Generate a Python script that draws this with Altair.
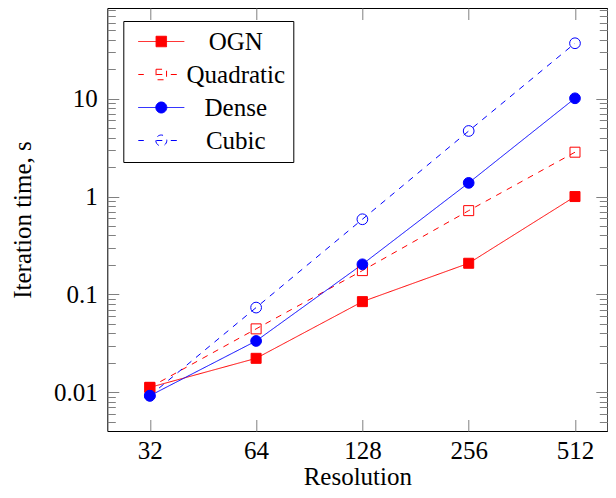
import altair as alt
import numpy as np
import pandas as pd

# ---- data ----
resolution = [32, 64, 128, 256, 512]
ogn = [0.0112, 0.0222, 0.0843, 0.208, 1.0]
quadratic = [0.0112, 0.0444, 0.175, 0.718, 2.84]
dense = [0.0092, 0.0334, 0.203, 1.38, 10.1]
cubic = [0.0092, 0.0733, 0.586, 4.68, 36.9]
series_names = ["OGN", "Quadratic", "Dense", "Cubic"]
marker_kind = ["square", "square", "circle", "circle"]
y_major = [0.01, 0.1, 1, 10]

# ---- styles ----
colors = ["#ff0000", "#ff0000", "#0000ff", "#0000ff"]
fills = ["#ff0000", "transparent", "#0000ff", "transparent"]
dashes = [[1, 0], [6, 6], [1, 0], [6, 6]]
CIRC = "M-1.1,0A1.1,1.1,0,1,0,1.1,0A1.1,1.1,0,1,0,-1.1,0Z"
SQ = "M-1.05,-1.05H1.05V1.05H-1.05Z"
SOLID = "M-4.6,0H4.6"
DASHED = "M-4.6,0H-3.5M-1,0H0.6M1.9,0H3.1"
legend_paths = [SOLID + SQ, DASHED + SQ, SOLID + CIRC, DASHED + CIRC]

rows = []
for name, kind, vals in zip(series_names, marker_kind, [ogn, quadratic, dense, cubic]):
    for r, v in zip(resolution, vals):
        rows.append({"series": name, "marker": kind, "res": r, "time": v})
df = pd.DataFrame(rows)

# axis limits like pgfplots: data range enlarged in log space
# (the right edge of the original figure is cut off, so it stops a bit earlier)
lx = np.log2(resolution)
sx = lx.max() - lx.min()
x_domain = [float(2 ** (lx.min() - 0.1 * sx)), float(2 ** (lx.max() + 0.076 * sx))]
ly = np.log10(df["time"].to_numpy())
sy = ly.max() - ly.min()
y_domain = [float(10 ** (ly.min() - 0.1 * sy)), float(10 ** (ly.max() + 0.1 * sy))]
y_minor = [k * 10.0 ** e for e in range(-3, 3) for k in range(2, 10)
           if y_domain[0] <= k * 10.0 ** e <= y_domain[1]]

xs = alt.Scale(type="log", base=2, domain=x_domain, nice=False)
ys = alt.Scale(type="log", base=10, domain=y_domain, nice=False)
color_scale = alt.Scale(domain=series_names, range=colors)
fill_scale = alt.Scale(domain=series_names, range=fills)
dash_scale = alt.Scale(domain=series_names, range=dashes)
shape_scale = alt.Scale(domain=series_names, range=legend_paths)

FONT = "Liberation Serif"
FS = 25
MAJ = 11.5
MIN = 8
common = dict(grid=False, domain=False, tickColor="#808080", tickWidth=1,
              labelFont=FONT, labelFontSize=FS, labelColor="black",
              titleFont=FONT, titleFontSize=FS, titleFontWeight="normal",
              titleColor="black")

x_bottom = alt.Axis(orient="bottom", values=resolution, format="d", tickSize=MAJ,
                    offset=-MAJ, labelPadding=7.5, title="Resolution",
                    titlePadding=0.5, labelFlush=False, **common)
y_left = alt.Axis(orient="left", values=y_major, format="~g", tickSize=MAJ,
                  offset=-MAJ, labelPadding=10, title="Iteration time, s",
                  titlePadding=18, **common)
x_top = alt.Axis(orient="top", values=resolution, labels=False, tickSize=MAJ,
                 offset=-MAJ, title=None, **common)
y_right = alt.Axis(orient="right", values=y_major, labels=False, tickSize=MAJ,
                   offset=-MAJ, title=None, **common)
y_left_minor = alt.Axis(orient="left", values=y_minor, labels=False, tickSize=MIN,
                        offset=-MIN, title=None, **common)
y_right_minor = alt.Axis(orient="right", values=y_minor, labels=False, tickSize=MIN,
                         offset=-MIN, title=None, **common)

leg = alt.Legend(title=None, orient="none", legendX=16, legendY=13, padding=8,
                 strokeColor="black", fillColor="white", cornerRadius=0,
                 labelFont=FONT, labelFontSize=FS, labelColor="black",
                 labelAlign="center", labelOffset=62, symbolOffset=17.5,
                 symbolSize=100, symbolStrokeWidth=1, rowPadding=7)

base = alt.Chart(df)

# legend-only layer (draws no marks, only supplies the legend)
legend_layer = base.transform_filter("false").mark_point(
    size=100, strokeWidth=1, opacity=1, filled=False
).encode(
    x=alt.X("res:Q", scale=xs, axis=None),
    y=alt.Y("time:Q", scale=ys, axis=y_right_minor),
    shape=alt.Shape("series:N", scale=shape_scale, legend=leg),
    color=alt.Color("series:N", scale=color_scale, legend=leg),
    fill=alt.Fill("series:N", scale=fill_scale, legend=leg),
)

lines = base.mark_line(strokeWidth=1).encode(
    x=alt.X("res:Q", scale=xs, axis=x_bottom),
    y=alt.Y("time:Q", scale=ys, axis=y_left),
    color=alt.Color("series:N", scale=color_scale, legend=None),
    strokeDash=alt.StrokeDash("series:N", scale=dash_scale, legend=None),
)

squares = base.transform_filter(alt.datum.marker == "square").mark_point(
    shape="square", size=100, strokeWidth=1, opacity=1, filled=False
).encode(
    x=alt.X("res:Q", scale=xs, axis=x_top),
    y=alt.Y("time:Q", scale=ys, axis=y_right),
    color=alt.Color("series:N", scale=color_scale, legend=None),
    fill=alt.Fill("series:N", scale=fill_scale, legend=None),
)

circles = base.transform_filter(alt.datum.marker == "circle").mark_point(
    shape="circle", size=115, strokeWidth=1, opacity=1, filled=False
).encode(
    x=alt.X("res:Q", scale=xs, axis=None),
    y=alt.Y("time:Q", scale=ys, axis=y_left_minor),
    color=alt.Color("series:N", scale=color_scale, legend=None),
    fill=alt.Fill("series:N", scale=fill_scale, legend=None),
)

chart = alt.layer(legend_layer, lines, squares, circles).resolve_axis(
    x="independent", y="independent"
).properties(
    width=500, height=423,
    padding={"left": 99.3, "top": 0, "right": 0.7, "bottom": 59},
    autosize=alt.AutoSizeParams(type="none"),
    background="white",
).configure_view(stroke="black", strokeWidth=1)

chart.save("out.html", embed_options={"renderer": "svg", "actions": False})
